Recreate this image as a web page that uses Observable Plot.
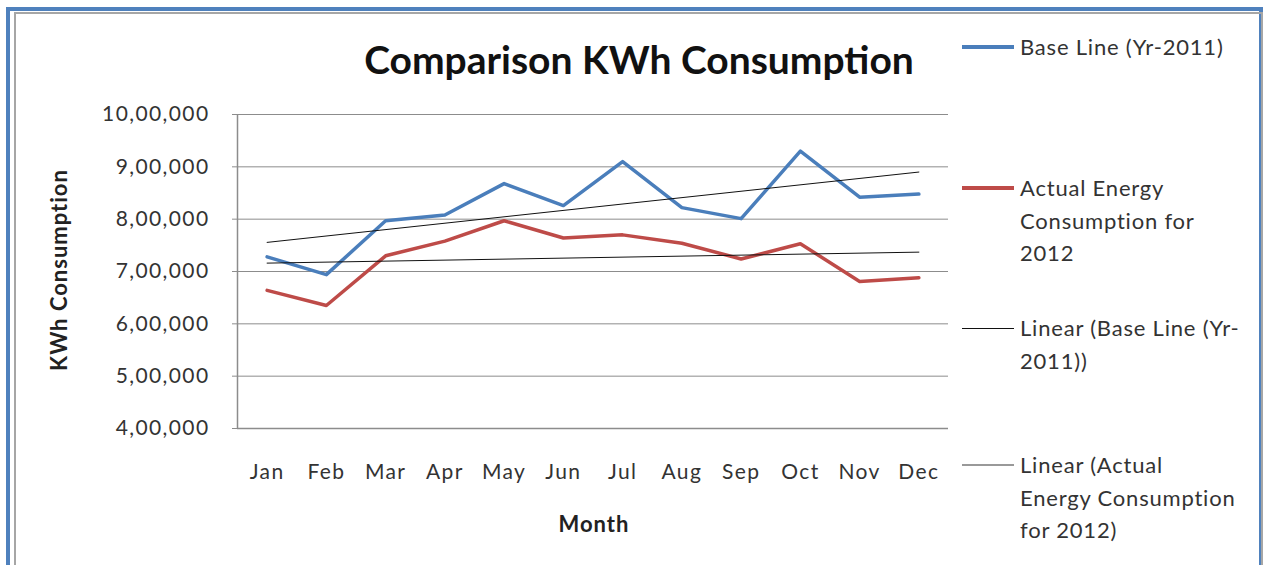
<!DOCTYPE html>
<html>
<head>
<meta charset="utf-8">
<script src="https://cdn.jsdelivr.net/npm/d3@7"></script>
<script src="https://cdn.jsdelivr.net/npm/@observablehq/plot@0.6"></script>
<style>
  html, body { margin: 0; padding: 0; background: #fff; }
  body { width: 1267px; height: 565px; position: relative; overflow: hidden; font-family: Lato, "Open Sans", sans-serif; color: #333; }
  #frame { position: absolute; left: 6px; top: 7px; width: 1257px; height: 600px; border: 4px solid #4f81bd; border-bottom: none; box-sizing: border-box; }
  #inner { position: absolute; left: 14px; top: 12px; width: 1249px; height: 600px; border: 2px solid #a6a6a6; border-bottom: none; border-right-width: 2px; box-sizing: border-box; }
  #chart { position: absolute; left: 0; top: 0; }
  #chart svg text { letter-spacing: 1.4px; }
  #title { position: absolute; left: 0; width: 1278px; top: 36px; text-align: center; font-weight: bold; font-size: 39px; color: #111; white-space: nowrap; }
  #ytitle { position: absolute; left: 58px; top: 270px; transform: translate(-50%, -50%) rotate(-90deg); font-weight: bold; font-size: 22px; letter-spacing: 1px; white-space: nowrap; color: #222; }
  #xtitle { position: absolute; left: 594px; top: 523px; transform: translate(-50%, -50%); font-weight: bold; font-size: 22px; letter-spacing: 1px; color: #222; }
  .leg { position: absolute; left: 1020px; font-size: 22px; letter-spacing: 0.8px; line-height: 32.5px; color: #333; white-space: nowrap; }
  .sw { position: absolute; left: 962px; width: 52px; }
</style>
</head>
<body>
<div id="frame"></div>
<div id="inner"></div>
<div id="chart"></div>
<div id="title">Comparison KWh Consumption</div>
<div id="ytitle">KWh Consumption</div>
<div id="xtitle">Month</div>
<div id="legend"></div>
<script>
const months = ["Jan","Feb","Mar","Apr","May","Jun","Jul","Aug","Sep","Oct","Nov","Dec"];
const baseLine2011 = [728000, 694000, 797000, 808000, 868000, 826000, 910000, 822000, 801000, 930000, 842000, 848000];
const actual2012 = [664000, 635000, 730000, 758000, 797000, 764000, 770000, 754000, 724000, 753000, 681000, 688000];
const yTicks = [400000, 500000, 600000, 700000, 800000, 900000, 1000000];
const seriesNames = ["Base Line (Yr-2011)", "Actual Energy Consumption for 2012", "Linear (Base Line (Yr-2011))", "Linear (Actual Energy Consumption for 2012)"];

function indian(v) {
  const s = String(Math.round(v));
  if (s.length <= 3) return s;
  const last3 = s.slice(-3);
  let rest = s.slice(0, -3);
  const parts = [];
  while (rest.length > 2) { parts.unshift(rest.slice(-2)); rest = rest.slice(0, -2); }
  if (rest.length) parts.unshift(rest);
  return parts.join(",") + "," + last3;
}

const base = months.map((m, i) => ({m: i + 1, v: baseLine2011[i]}));
const act = months.map((m, i) => ({m: i + 1, v: actual2012[i]}));

const BLUE = "#4a7ebb", RED = "#be4b48";

const plot = Plot.plot({
  width: 1267,
  height: 565,
  marginLeft: 237,
  marginRight: 319,
  marginTop: 114,
  marginBottom: 137,
  style: {background: "transparent", fontFamily: "Lato, 'Open Sans', sans-serif"},
  x: {type: "linear", domain: [0.5, 12.5]},
  y: {domain: [400000, 1000000]},
  marks: [
    Plot.gridY(yTicks, {stroke: "#8c8c8c", strokeOpacity: 1, strokeWidth: 1}),
    Plot.ruleX([0.5], {stroke: "#8c8c8c", strokeWidth: 1.5}),
    Plot.ruleY([400000], {stroke: "#8c8c8c", strokeWidth: 1.5}),
    Plot.axisY(yTicks, {tickSize: 5, tickPadding: 23, tickFormat: indian, fontSize: 21, fill: "#333", stroke: "#8c8c8c", label: null}),
    Plot.axisX(months.map((m, i) => i + 1), {tickSize: 0, tickPadding: 36, tickFormat: d => months[d - 1], fontSize: 21, fill: "#333", label: null}),
    Plot.line(base, {x: "m", y: "v", stroke: BLUE, strokeWidth: 3.5}),
    Plot.line(act, {x: "m", y: "v", stroke: RED, strokeWidth: 3.5}),
    Plot.linearRegressionY(base, {x: "m", y: "v", stroke: "#111", strokeWidth: 1, ci: 0}),
    Plot.linearRegressionY(act, {x: "m", y: "v", stroke: "#111", strokeWidth: 1, ci: 0})
  ]
});
document.getElementById("chart").appendChild(plot);

const legendItems = [
  {lines: ["Base Line (Yr-2011)"], top: 31, color: BLUE, w: 3.5},
  {lines: ["Actual Energy", "Consumption for", "2012"], top: 172, color: RED, w: 3.5},
  {lines: ["Linear (Base Line (Yr-", "2011))"], top: 312, color: "#111", w: 1},
  {lines: ["Linear (Actual", "Energy Consumption", "for 2012)"], top: 449, color: "#999", w: 2}
];
const lg = document.getElementById("legend");
legendItems.forEach(it => {
  const t = document.createElement("div");
  t.className = "leg";
  t.style.top = it.top + "px";
  t.innerHTML = it.lines.join("<br>");
  lg.appendChild(t);
  const s = document.createElement("div");
  s.className = "sw";
  s.style.top = (it.top + 16 - it.w / 2) + "px";
  s.style.height = it.w + "px";
  s.style.background = it.color;
  lg.appendChild(s);
});
</script>
</body>
</html>
